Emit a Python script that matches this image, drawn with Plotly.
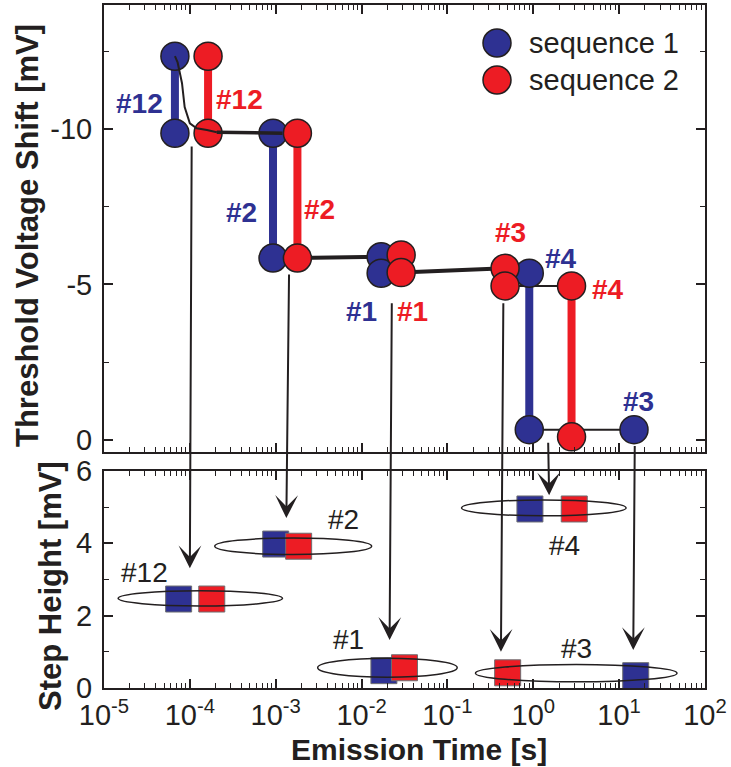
import math
import plotly.graph_objects as go
from plotly.subplots import make_subplots

# ---------------- data ----------------
# Sequence 1 (blue): emission time of each step [s] and threshold-voltage shift before / after it [mV]
seq1_defects = ["#12", "#2", "#1", "#4", "#3"]
seq1_time = [6.7e-5, 9.3e-4, 0.0169, 0.898, 14.9]
seq1_v_start = [-12.35, -9.87, -5.89, -5.36, -0.32]
seq1_v_end = [-9.87, -5.85, -5.36, -0.32, None]

# Sequence 2 (red)
seq2_defects = ["#12", "#2", "#1", "#3", "#4"]
seq2_time = [1.63e-4, 1.79e-3, 0.0289, 0.469, 2.79]
seq2_v_start = [-12.35, -9.87, -5.95, -5.52, -4.95]
seq2_v_end = [-9.87, -5.85, -5.38, -4.95, -0.09]

# recovery trace between the steps (None breaks the line)
trace_top_t = [6.7e-5, 7.2e-5, 8.1e-5, 8.7e-5, 1.0e-4, 1.2e-4, 1.58e-4, 2.06e-4]
trace_top_v = [-12.35, -12.15, -11.48, -10.71, -10.19, -10.03, -9.97, -9.9]
trace_plateau_t = [2.06e-4, 1.2e-3, None, 1.79e-3, 0.0169, None, 0.0289, 0.469]
trace_plateau_v = [-9.9, -9.87, None, -5.85, -5.89, None, -5.38, -5.52]
trace_tail_t = [0.469, 2.79, None, 0.898, 14.9]
trace_tail_v = [-4.95, -4.95, None, -0.32, -0.32]

# label positions of the steps in the upper panel
seq1_label_t = [2.62e-5, 4.03e-4, 0.0100, 2.12, 16.6]
seq1_label_v = [-10.84, -7.33, -4.12, -5.85, -1.22]
seq2_label_t = [3.81e-4, 3.25e-3, 0.0392, 0.541, 7.45]
seq2_label_v = [-10.96, -7.40, -4.12, -6.66, -4.82]

# Step heights [mV] versus emission time [s]
step_defects = ["#12", "#2", "#1", "#4", "#3"]
step_seq1_time = [7.4e-5, 1.0e-3, 0.0182, 0.914, 15.6]
step_seq1_height = [2.46, 3.98, 0.48, 4.95, 0.34]
step_seq2_time = [1.8e-4, 1.85e-3, 0.0316, 3.0, 0.503]
step_seq2_height = [2.46, 3.92, 0.56, 4.95, 0.42]

# ellipses grouping each defect's two emissions
group_t_min = [1.46e-5, 1.95e-4, 3.08e-3, 0.146, 0.212]
group_t_max = [1.2e-3, 0.0131, 0.13, 12.05, 47.2]
group_h_center = [2.48, 3.92, 0.56, 4.98, 0.41]
group_h_half = [0.21, 0.23, 0.26, 0.22, 0.24]
group_label_t = [3.0e-5, 6.18e-3, 6.97e-3, 2.29, 3.16]
group_label_h = [3.18, 4.67, 1.33, 3.95, 1.10]

# arrows from each step to its step-height point
arrow_tail_t = [1.05e-4, 1.43e-3, 0.0225, 0.448, 1.49, 15.2]
arrow_tail_v = [-9.49, -5.37, -4.44, -4.44, 0.05, 0.16]
arrow_head_t = [1.0e-4, 1.33e-3, 0.0212, 0.42, 1.53, 14.6]
arrow_head_h = [3.31, 4.70, 1.33, 1.0, 5.33, 1.05]

x_tick_exponents = [-5, -4, -3, -2, -1, 0, 1, 2]
series_names = ["sequence 1", "sequence 2"]

# ---------------- style ----------------
FONT = "Liberation Sans, Arial, Helvetica, sans-serif"
INK = "#231F20"
BLUE = "#2E3192"
RED = "#ED1C24"
W, H = 731, 767
M_L, M_R, M_T, M_B = 104, 26, 5, 79
TOP_DOM = [0.3455, 1.0]
BOT_DOM = [0.0, 0.3177]
Y1_RANGE = [0.4, -14.0]
Y2_RANGE = [0.0, 6.0]
MARKER = 28
SQUARE = 26

fig = make_subplots(rows=2, cols=1)


def bars(times, v0, v1):
    xs, ys = [], []
    for t, a, b in zip(times, v0, v1):
        if b is None:
            continue
        xs += [t, t, None]
        ys += [a, b, None]
    return xs, ys


def circles(times, v0, v1):
    xs, ys = [], []
    for t, a, b in zip(times, v0, v1):
        xs.append(t)
        ys.append(a)
        if b is not None:
            xs.append(t)
            ys.append(b)
    return xs, ys


# coloured step bars
for times, v0, v1, col in [(seq1_time, seq1_v_start, seq1_v_end, BLUE),
                           (seq2_time, seq2_v_start, seq2_v_end, RED)]:
    bx, by = bars(times, v0, v1)
    fig.add_trace(go.Scatter(x=bx, y=by, mode="lines", line=dict(color=col, width=8),
                             showlegend=False, hoverinfo="skip"), row=1, col=1)

# trace segments lying under the markers
fig.add_trace(go.Scatter(x=trace_plateau_t[3:], y=trace_plateau_v[3:], mode="lines",
                         line=dict(color=INK, width=4), showlegend=False), row=1, col=1)
fig.add_trace(go.Scatter(x=trace_tail_t, y=trace_tail_v, mode="lines",
                         line=dict(color=INK, width=2), showlegend=False), row=1, col=1)

# step markers
for (times, v0, v1, col), name in zip([(seq1_time, seq1_v_start, seq1_v_end, BLUE),
                                        (seq2_time, seq2_v_start, seq2_v_end, RED)], series_names):
    cx, cy = circles(times, v0, v1)
    fig.add_trace(go.Scatter(x=cx, y=cy, mode="markers", name=name,
                             marker=dict(size=MARKER, color=col, line=dict(color=INK, width=1.5)),
                             showlegend=False), row=1, col=1)

# early part of the trace drawn over the markers
fig.add_trace(go.Scatter(x=trace_top_t, y=trace_top_v, mode="lines",
                         line=dict(color=INK, width=2), showlegend=False), row=1, col=1)
fig.add_trace(go.Scatter(x=trace_plateau_t[:2], y=trace_plateau_v[:2], mode="lines",
                         line=dict(color=INK, width=3.5), showlegend=False), row=1, col=1)

# step-height squares
for times, hs, col in [(step_seq1_time, step_seq1_height, BLUE),
                       (step_seq2_time, step_seq2_height, RED)]:
    fig.add_trace(go.Scatter(x=times, y=hs, mode="markers",
                             marker=dict(symbol="square", size=SQUARE, color=col,
                                         line=dict(color="#6D6E71", width=1)),
                             showlegend=False), row=2, col=1)

# ellipses around each defect's pair
for t0, t1, hc, hh in zip(group_t_min, group_t_max, group_h_center, group_h_half):
    fig.add_shape(type="circle", xref="x2", yref="y2", x0=t0, x1=t1, y0=hc - hh, y1=hc + hh,
                  line=dict(color=INK, width=1.5), layer="above")

annotations = []
# step labels, upper panel
for labels, ts, vs, col in [(seq1_defects, seq1_label_t, seq1_label_v, BLUE),
                            (seq2_defects, seq2_label_t, seq2_label_v, RED)]:
    for lab, t, v in zip(labels, ts, vs):
        annotations.append(dict(x=math.log10(t), y=v, xref="x", yref="y", text=f"<b>{lab}</b>",
                                showarrow=False, font=dict(family=FONT, size=28, color=col)))
# group labels, lower panel
for lab, t, h in zip(step_defects, group_label_t, group_label_h):
    annotations.append(dict(x=math.log10(t), y=h, xref="x2", yref="y2", text=lab,
                            showarrow=False, font=dict(family=FONT, size=28, color=INK)))


def lower_to_upper(h):
    """Express a step-height value in upper-panel coordinates."""
    paper = BOT_DOM[0] + (h - Y2_RANGE[0]) / (Y2_RANGE[1] - Y2_RANGE[0]) * (BOT_DOM[1] - BOT_DOM[0])
    return Y1_RANGE[0] + (paper - TOP_DOM[0]) / (TOP_DOM[1] - TOP_DOM[0]) * (Y1_RANGE[1] - Y1_RANGE[0])


for tt, tv, ht, hh in zip(arrow_tail_t, arrow_tail_v, arrow_head_t, arrow_head_h):
    annotations.append(dict(x=math.log10(ht), y=lower_to_upper(hh), xref="x", yref="y",
                            ax=math.log10(tt), ay=tv, axref="x", ayref="y", text="",
                            showarrow=True, arrowhead=3, arrowsize=1.9, arrowwidth=2,
                            arrowcolor=INK, standoff=0, startstandoff=0))

# axis titles
plot_w = W - M_L - M_R
plot_h = H - M_T - M_B


def px_x(p):
    return (p - M_L) / plot_w


def px_y(p):
    return (H - M_B - p) / plot_h


annotations.append(dict(x=px_x(27), y=px_y(236), xref="paper", yref="paper",
                        text="<b>Threshold Voltage Shift [mV]</b>", textangle=-90, showarrow=False,
                        xanchor="center", yanchor="middle", font=dict(family=FONT, size=31, color=INK)))
annotations.append(dict(x=px_x(50), y=px_y(586), xref="paper", yref="paper",
                        text="<b>Step Height [mV]</b>", textangle=-90, showarrow=False,
                        xanchor="center", yanchor="middle", font=dict(family=FONT, size=31, color=INK)))
annotations.append(dict(x=px_x(419), y=px_y(H), xref="paper", yref="paper",
                        text="<b>Emission Time [s]</b>", showarrow=False, borderpad=0,
                        xanchor="center", yanchor="bottom", font=dict(family=FONT, size=30, color=INK)))

# legend
for i, (name, col) in enumerate(zip(series_names, [BLUE, RED])):
    cy = px_y(43 + 37 * i)
    fig.add_shape(type="circle", xref="paper", yref="paper", xsizemode="pixel", ysizemode="pixel",
                  xanchor=px_x(497), yanchor=cy, x0=-14, x1=14, y0=-14, y1=14,
                  fillcolor=col, line=dict(color=INK, width=1.5), layer="above")
    annotations.append(dict(x=px_x(527), y=cy, xref="paper", yref="paper", text=name,
                            showarrow=False, xanchor="left", yanchor="middle",
                            font=dict(family=FONT, size=29, color=INK)))

minor_x = [k * 10 ** n for n in range(-5, 2) for k in range(2, 10)]
xaxis_common = dict(type="log", range=[-5, 2], showline=True, linecolor=INK, linewidth=2,
                    mirror="ticks", ticks="inside", ticklen=9, tickwidth=1.5, tickcolor=INK,
                    tickmode="array", tickvals=[10 ** e for e in x_tick_exponents],
                    ticktext=[f"10<sup>{e}</sup>" for e in x_tick_exponents],
                    minor=dict(tickmode="array", tickvals=minor_x, ticks="inside", ticklen=5,
                               tickwidth=1.2, tickcolor=INK),
                    showgrid=False, zeroline=False, automargin=False,
                    tickfont=dict(family=FONT, size=29, color=INK))
fig.update_xaxes(**xaxis_common)
fig.update_xaxes(showticklabels=False, row=1, col=1)

yaxis_common = dict(showline=True, linecolor=INK, linewidth=2, mirror="ticks", ticks="inside",
                    ticklen=9, tickwidth=1.5, tickcolor=INK, showgrid=False, zeroline=False,
                    automargin=False, ticklabelstandoff=4,
                    tickfont=dict(family=FONT, size=29, color=INK))
fig.update_yaxes(**yaxis_common)
fig.update_yaxes(range=Y1_RANGE, domain=TOP_DOM, tickmode="array", tickvals=[-10, -5, 0],
                 ticktext=["-10", "-5", "0"],
                 minor=dict(tickmode="array", tickvals=[-12.5, -7.5, -2.5], ticks="inside",
                            ticklen=5, tickwidth=1.2, tickcolor=INK), row=1, col=1)
fig.update_yaxes(range=list(Y2_RANGE), domain=BOT_DOM, tickmode="array", tickvals=[0, 2, 4, 6],
                 minor=dict(tickmode="array", tickvals=[1, 3, 5], ticks="inside",
                            ticklen=5, tickwidth=1.2, tickcolor=INK), row=2, col=1)

fig.update_layout(width=W, height=H, margin=dict(l=M_L, r=M_R, t=M_T, b=M_B, autoexpand=False),
                  paper_bgcolor="white", plot_bgcolor="white", showlegend=False,
                  annotations=annotations, font=dict(family=FONT, color=INK))

fig.write_html("out.html")
